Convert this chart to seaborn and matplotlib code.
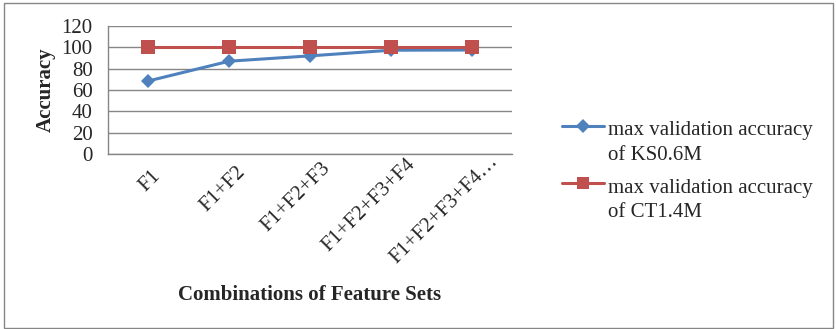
import matplotlib
matplotlib.use("Agg")
import numpy as np
import matplotlib.pyplot as plt
import matplotlib.transforms as mtransforms
import seaborn as sns
import pandas as pd
from matplotlib.patches import Rectangle
from matplotlib.lines import Line2D
from matplotlib.legend_handler import HandlerLine2D
from matplotlib.textpath import TextPath
from matplotlib.font_manager import FontProperties

feature_sets = ["F1", "F1+F2", "F1+F2+F3", "F1+F2+F3+F4", "F1+F2+F3+F4…"]
ks_accuracy = [68.5, 87, 92, 97.3, 97.5]
ct_accuracy = [100, 100, 100, 100, 100]
series_names = ["max validation accuracy\nof KS0.6M", "max validation accuracy\nof CT1.4M"]
y_ticks = [0, 20, 40, 60, 80, 100, 120]

sns.set_style("white")
plt.rcParams["font.family"] = ["Liberation Serif", "DejaVu Serif"]

FS = 15
GRID = "#868686"
blue, red = "#4F81BD", "#C0504D"

df = pd.DataFrame({
    "pos": list(range(len(feature_sets))) * 2,
    "acc": ks_accuracy + ct_accuracy,
    "series": [series_names[0]] * len(feature_sets) + [series_names[1]] * len(feature_sets),
})

fig = plt.figure(figsize=(8.36, 3.29), dpi=100)
ax = fig.add_axes([108 / 836, 1 - 154 / 329, (512 - 108) / 836, (154 - 26) / 329])

sns.lineplot(data=df, x="pos", y="acc", hue="series", style="series",
             palette=[blue, red], markers=["D", "s"], dashes=False,
             markersize=8, linewidth=2.2, markeredgewidth=0, ax=ax, legend=False)
for ln, ms in zip(ax.get_lines(), [7, 9.5]):
    ln.set_markersize(ms)

ax.set_xlim(-0.5, len(feature_sets) - 0.5)
ax.set_ylim(0, 120)
ax.set_yticks(y_ticks)
ax.set_yticklabels([str(v) for v in y_ticks], fontsize=FS)
ax.yaxis.grid(True, color=GRID, linewidth=1)
ax.set_axisbelow(True)

ax.set_xticks(range(len(feature_sets)))
ax.set_xticklabels(feature_sets, rotation=45, ha="right", va="top",
                   rotation_mode="anchor", fontsize=FS)
ax.tick_params(axis="x", length=0, pad=11)
ax.set_xticks([i - 0.5 for i in range(len(feature_sets) + 1)], minor=True)
ax.tick_params(axis="x", which="minor", length=4, color=GRID, width=1, direction="out")
ax.tick_params(axis="y", length=4, color=GRID, width=1, direction="out", pad=7)

# longer category labels sit a little further along their slant
fp = FontProperties(family="Liberation Serif", size=FS)
for lab in ax.get_xticklabels():
    w = TextPath((0, 0), lab.get_text(), prop=fp).get_extents().width  # points
    d = 0.17 * w / 72.0
    lab.set_transform(lab.get_transform() + mtransforms.ScaledTranslation(
        d * np.cos(np.pi / 4), d * np.sin(np.pi / 4), fig.dpi_scale_trans))

for side in ["top", "right"]:
    ax.spines[side].set_visible(False)
for side in ["left", "bottom"]:
    ax.spines[side].set_color(GRID)
    ax.spines[side].set_linewidth(1)

ax.set_xlabel("Combinations of Feature Sets", fontsize=FS, fontweight="bold", labelpad=12)
ax.set_ylabel("Accuracy", fontsize=FS, fontweight="bold", labelpad=4)


class FirstLineHandler(HandlerLine2D):
    """Line handle placed beside the first line of a two-line label."""
    shift = 12.0

    def create_artists(self, legend, orig_handle, xdescent, ydescent,
                       width, height, fontsize, trans):
        arts = super().create_artists(legend, orig_handle, xdescent, ydescent,
                                      width, height, fontsize, trans)
        for a in arts:
            a.set_ydata([y + self.shift for y in a.get_ydata()])
        return arts


handles = [
    Line2D([], [], color=blue, marker="D", markersize=7, linewidth=2.2, markeredgewidth=0),
    Line2D([], [], color=red, marker="s", markersize=9, linewidth=2.2, markeredgewidth=0),
]
leg = fig.legend(handles, series_names, loc="upper left",
                 bbox_to_anchor=(552 / 836, 1 - 111 / 329),
                 frameon=False, fontsize=FS, handlelength=2.0, handletextpad=0.2,
                 labelspacing=0.65, borderpad=0,
                 handler_map={Line2D: FirstLineHandler()})
for t in leg.get_texts():
    t.set_linespacing(1.4)

fig.patches.append(Rectangle((4 / 836, 1 / 329), 829 / 836, 325 / 329, transform=fig.transFigure,
                             fill=False, edgecolor=GRID, linewidth=1))

fig.savefig("out.png", dpi=100)
